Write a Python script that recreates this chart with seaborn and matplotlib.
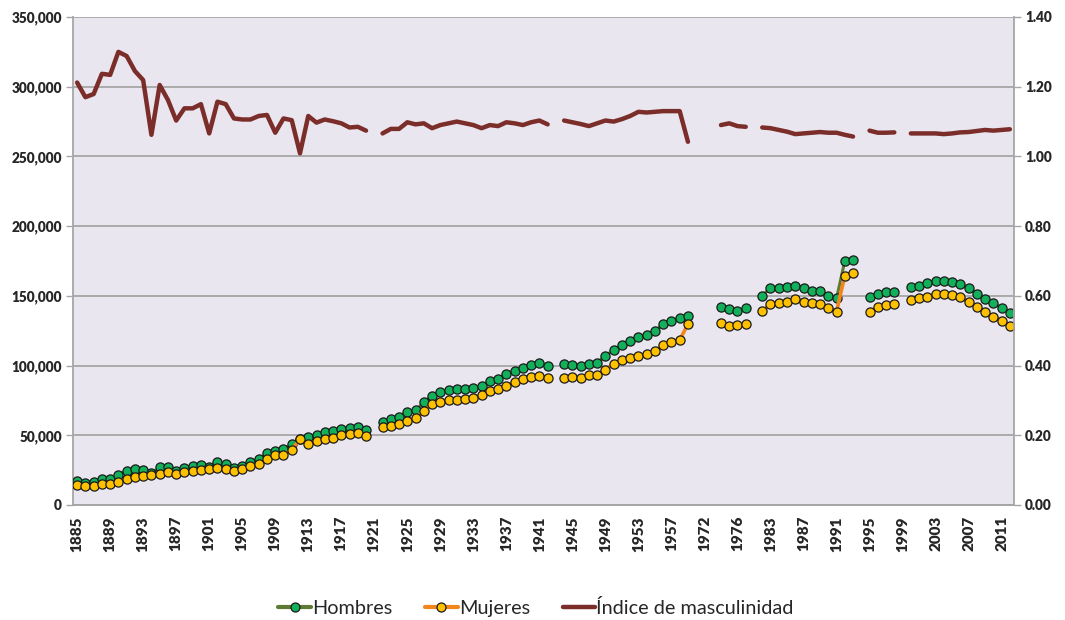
import matplotlib
matplotlib.use("Agg")
import matplotlib.pyplot as plt
import seaborn as sns
import numpy as np
import pandas as pd
from matplotlib.lines import Line2D
from matplotlib.ticker import FuncFormatter, MultipleLocator

# categories (one per column of the chart, some years have no data)
years = (list(range(1885, 1961)) + list(range(1972, 1978)) + [1981, 1982]
         + list(range(1983, 2013)))

hombres = [
    17400, 16000, 16700, 18300, 18300, 21800, 24500, 25500, 25300, 22800,
    27000, 27500, 24200, 26600, 28000, 28500, 27300, 30500, 29700, 26800,
    28300, 30800, 32800, 37000, 38500, 40000, 43800, 47500, 49000, 50000,
    52000, 53000, 54600, 55000, 56200, 53500, None, 59300, 61500, 62800,
    66500, 67800, 73700, 78300, 80800, 82500, 83000, 83200, 83700, 85400,
    89200, 90400, 94000, 96300, 98500, 100400, 102100, 99700, None, 100900,
    100400, 99900, 101100, 102100, 106900, 111200, 114800, 117600, 120500, 122200,
    124800, 129800, 132000, 133900, 135600, None, None, None, 142200, 140400,
    139200, 141100, None, 150100, 155900, 155900, 156600, 156900, 155400, 153700,
    153700, 150100, 148200, 175000, 175700, None, 149000, 151100, 152600, 152600,
    None, 156100, 157300, 159000, 160700, 160700, 159700, 158500, 155400, 151400,
    147800, 144700, 141500, 137900,
]

mujeres = [
    14300, 13600, 13900, 14800, 14800, 16700, 19000, 20300, 20700, 21500,
    22300, 23600, 21900, 23400, 24600, 24800, 25600, 26400, 25800, 24200,
    25600, 27800, 29400, 33100, 36000, 36100, 39700, 47100, 43800, 45600,
    47000, 48100, 49900, 50800, 51800, 49800, None, 55600, 57000, 58200,
    60600, 62100, 67300, 72400, 74100, 75300, 75500, 76000, 76800, 79000,
    81800, 83200, 85600, 88000, 90300, 91600, 92500, 91300, None, 91400,
    91500, 91300, 92900, 93100, 97000, 101100, 103700, 105400, 106900, 108500,
    110600, 114900, 116800, 118500, 129600, None, None, None, 130800, 128400,
    128900, 130000, None, 139200, 144000, 145200, 145800, 147500, 145800, 144700,
    144000, 141500, 138700, 164500, 166600, None, 138700, 141800, 143500, 144200,
    None, 147000, 148200, 149400, 151100, 151400, 150600, 149000, 145800, 142200,
    138200, 135100, 132200, 128600,
]

indice = [
    1.212, 1.170, 1.179, 1.237, 1.234, 1.300, 1.288, 1.245, 1.219, 1.062,
    1.205, 1.162, 1.103, 1.138, 1.138, 1.150, 1.066, 1.157, 1.150, 1.109,
    1.106, 1.106, 1.116, 1.119, 1.068, 1.109, 1.104, 1.009, 1.116, 1.097,
    1.106, 1.101, 1.095, 1.083, 1.085, 1.074, None, 1.066, 1.079, 1.079,
    1.098, 1.092, 1.095, 1.081, 1.090, 1.095, 1.100, 1.095, 1.090, 1.081,
    1.090, 1.087, 1.098, 1.095, 1.090, 1.098, 1.103, 1.092, None, 1.103,
    1.098, 1.093, 1.087, 1.095, 1.103, 1.100, 1.107, 1.116, 1.128, 1.126,
    1.128, 1.130, 1.130, 1.130, 1.042, None, None, None, 1.090, 1.095,
    1.087, 1.085, None, 1.083, 1.081, 1.076, 1.071, 1.064, 1.066, 1.068,
    1.070, 1.068, 1.068, 1.062, 1.057, None, 1.074, 1.068, 1.068, 1.069,
    None, 1.066, 1.066, 1.066, 1.066, 1.064, 1.066, 1.069, 1.070, 1.073,
    1.076, 1.074, 1.076, 1.078,
]

GREEN = "#12b05a"
OLIVE = "#5f7a33"
YELLOW = "#ffc000"
ORANGE = "#f2861c"
BROWN = "#7b2d2a"
GRID = "#a6a6a6"

sns.set_theme(style="white")
plt.rcParams['font.family'] = ['Lato', 'DejaVu Sans']

df = pd.DataFrame({"pos": np.arange(len(years)), "year": years,
                   "Hombres": hombres, "Mujeres": mujeres, "Indice": indice})

fig = plt.figure(figsize=(10.65, 6.2), dpi=100)
ax = fig.add_axes([73 / 1065, 1 - 505 / 620, (1014 - 73) / 1065, (505 - 17) / 620])
ax.set_facecolor("#eae6ef")
ax2 = ax.twinx()


def draw(axis, col, line_color, face=None, lw=2.0, z=2):
    # split into runs so missing years leave a gap in the line
    d = df[["pos", col]].copy()
    d["seg"] = d[col].isna().cumsum()
    d = d.dropna()
    kw = {}
    if face:
        kw = dict(marker="o", markersize=6.6, markerfacecolor=face,
                  markeredgecolor="#1a1a1a", markeredgewidth=0.9)
    sns.lineplot(data=d, x="pos", y=col, units="seg", estimator=None,
                 color=line_color, lw=lw, ax=axis, legend=False, zorder=z, **kw)


draw(ax, "Hombres", OLIVE, GREEN, lw=2.2, z=3)
draw(ax, "Mujeres", ORANGE, YELLOW, lw=2.6, z=4)
draw(ax2, "Indice", BROWN, None, lw=3.2, z=3)

n = len(years)
ax.set_xlim(-0.5, n - 0.5)
ax.set_ylim(0, 350000)
ax2.set_ylim(0, 1.4)

ax.yaxis.set_major_locator(MultipleLocator(50000))
ax.yaxis.set_major_formatter(FuncFormatter(lambda v, p: f"{v:,.0f}"))
ax2.yaxis.set_major_locator(MultipleLocator(0.2))
ax2.yaxis.set_major_formatter(FuncFormatter(lambda v, p: f"{v:.2f}"))

ax.set_xticks(range(n))
ax.set_xticklabels([str(y) if i % 4 == 0 else "" for i, y in enumerate(years)],
                   rotation=90)

ax.grid(axis="y", color=GRID, lw=1.3)
ax.grid(axis="x", visible=False)
ax.set_axisbelow(True)
ax.tick_params(axis="both", direction="out", length=5, width=1, color=GRID, pad=3)
ax2.tick_params(axis="y", direction="out", length=5, width=1, color=GRID, pad=3)
ax.set_xlabel("")
ax.set_ylabel("")
ax2.set_ylabel("")

for t in ax.get_xticklabels():
    t.set_fontweight("heavy")
    t.set_fontsize(11)
for t in ax.get_yticklabels() + ax2.get_yticklabels():
    t.set_fontweight("heavy")
    t.set_fontsize(9.8)

for a in (ax, ax2):
    a.spines["top"].set_visible(False)
    for s in ("left", "right", "bottom"):
        a.spines[s].set_color(GRID)
        a.spines[s].set_linewidth(1.3)
ax.spines["right"].set_visible(False)
ax2.spines["left"].set_visible(False)

handles = [
    Line2D([], [], color=OLIVE, lw=3, marker="o", markersize=6.5,
           markerfacecolor=GREEN, markeredgecolor="#1a1a1a", markeredgewidth=0.9),
    Line2D([], [], color=ORANGE, lw=3, marker="o", markersize=6.5,
           markerfacecolor=YELLOW, markeredgecolor="#1a1a1a", markeredgewidth=0.9),
    Line2D([], [], color=BROWN, lw=3.2),
]
fig.legend(handles, ["Hombres", "Mujeres", "Índice de masculinidad"],
           loc="center", bbox_to_anchor=(536 / 1065, 1 - 608 / 620), ncol=3, frameon=False,
           fontsize=14.3, handlelength=1.65, handletextpad=0.05, columnspacing=1.65)

fig.savefig("out.png", dpi=100)
